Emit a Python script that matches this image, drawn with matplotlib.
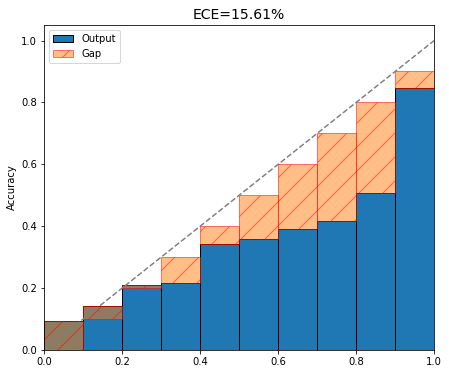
import numpy as np
import matplotlib
matplotlib.use("Agg")
import matplotlib.pyplot as plt

# reliability diagram data (10 bins)
bin_edges = [0.0, 0.1, 0.2, 0.3, 0.4, 0.5, 0.6, 0.7, 0.8, 0.9]
output = [0.094, 0.142, 0.209, 0.218, 0.344, 0.36, 0.392, 0.416, 0.507, 0.847]
confidence = [0.0, 0.1, 0.2, 0.3, 0.4, 0.5, 0.6, 0.7, 0.8, 0.9]
ece = 15.61

bins = np.array(bin_edges)
out = np.array(output)
gap = np.array(confidence) - out

fig, ax = plt.subplots(figsize=(449 / 72, 374 / 72), dpi=72)

ax.bar(bins, out, width=0.1, align='edge', edgecolor='black',
       color='#1f77b4', label='Output')
ax.bar(bins, gap, bottom=out, width=0.1, align='edge', edgecolor='r',
       color='#ff7f0e', alpha=0.5, hatch='/', label='Gap')

ax.plot([0, 1], [0, 1], '--', color='gray', linewidth=1.5)

ax.set_xlim(0, 1)
ax.set_ylim(0, 1.05)
ax.set_ylabel("Accuracy")
ax.set_title("ECE=%.2f%%" % ece, fontsize=14)
ax.legend(loc='upper left')

fig.subplots_adjust(left=0.098, right=0.967, top=0.933, bottom=0.064)
fig.savefig("out.png")
